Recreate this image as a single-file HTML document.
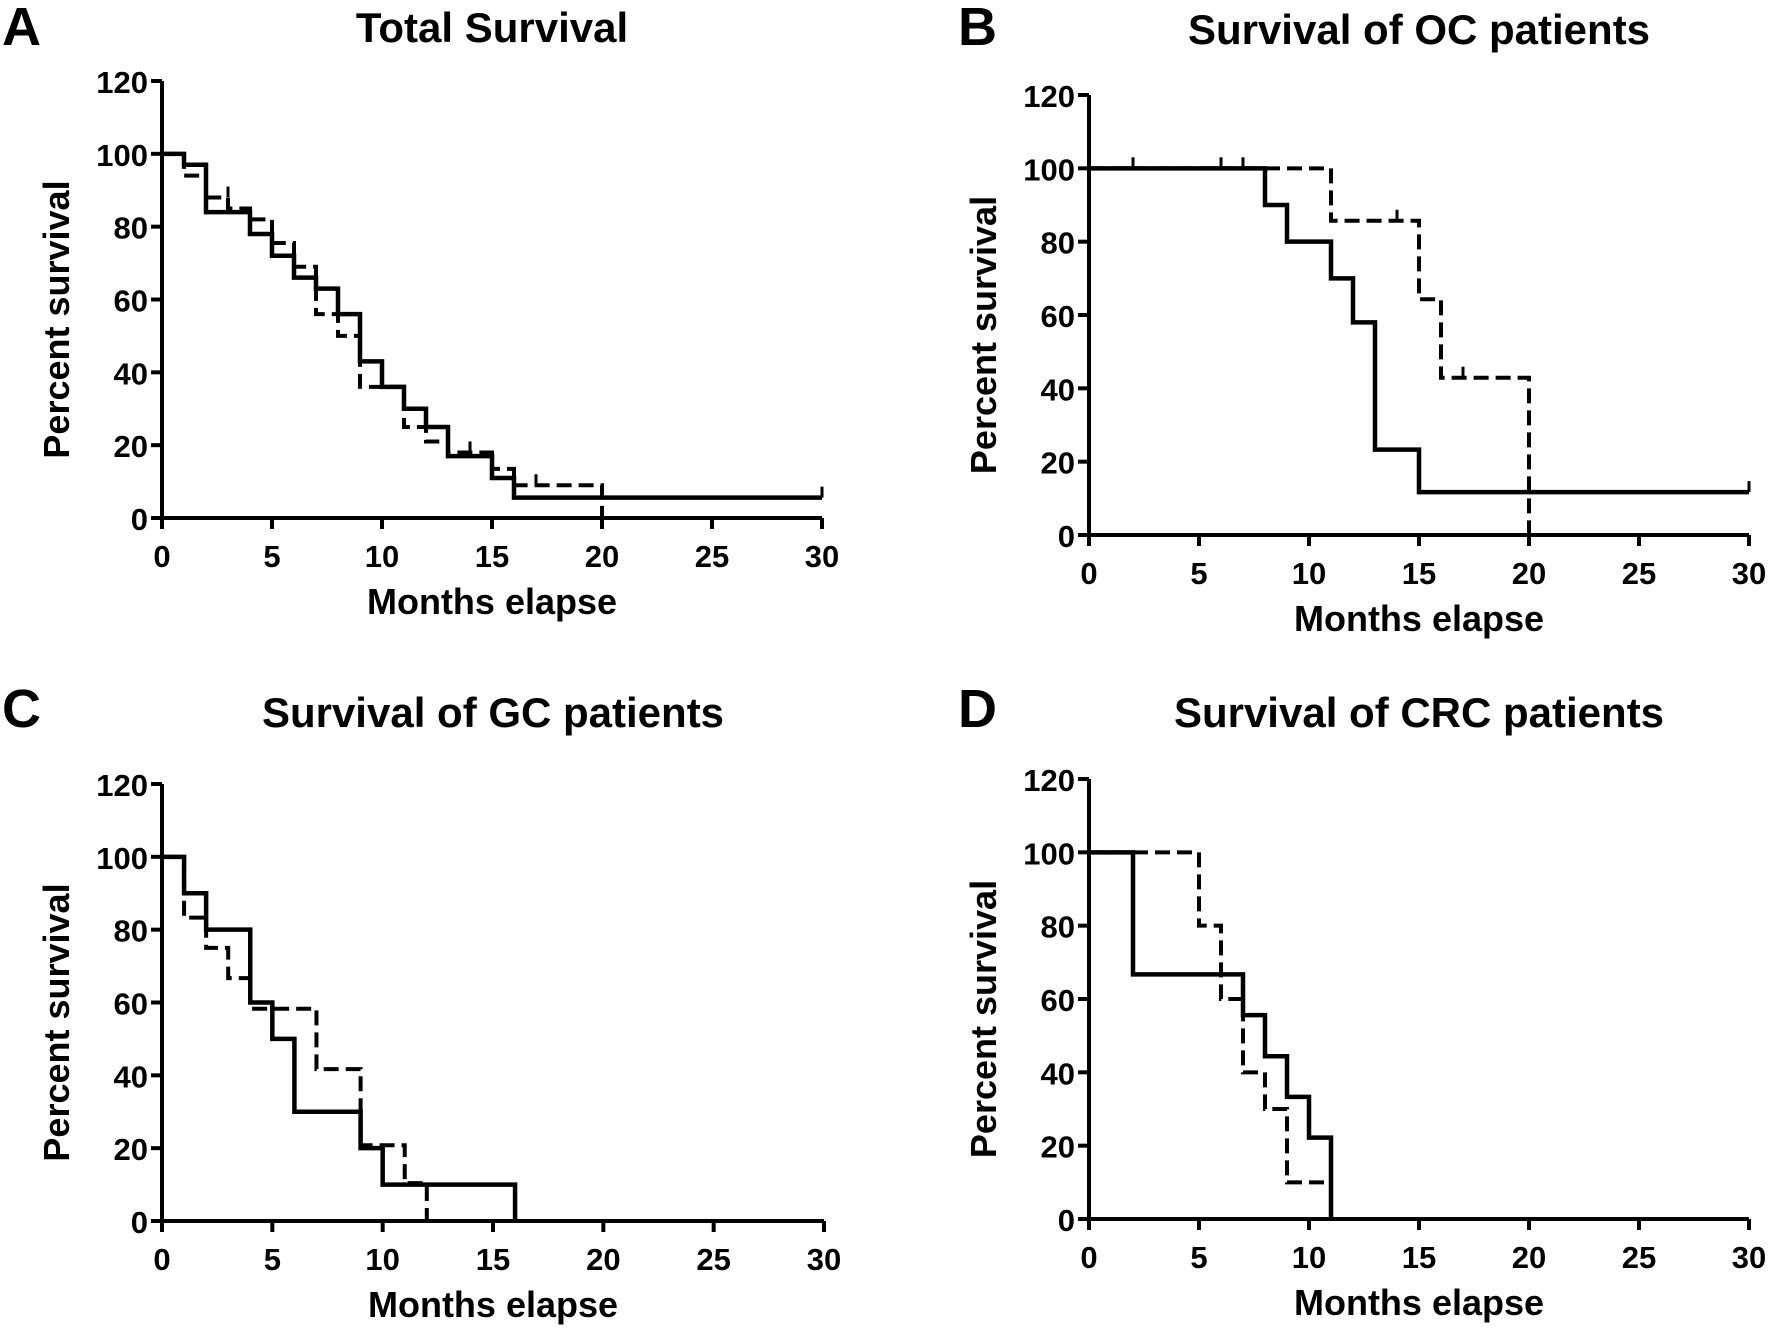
<!DOCTYPE html>
<html><head><meta charset="utf-8"><style>
html,body{margin:0;padding:0;background:#fff;}
svg{display:block;font-family:"Liberation Sans",Arial,sans-serif;font-weight:bold;}
</style></head><body>
<svg id="fig" width="1772" height="1331" viewBox="0 0 1772 1331"></svg>
<script>
// ---- data: step curves as [time, percent] change points ----
const xTicks = [0,5,10,15,20,25,30];
const yTicks = [0,20,40,60,80,100,120];
const aSolidT = [0,1,2,4,5,6,7,8,9,10,11,12,13,15,16,30];
const aSolidV = [100,97,84,78,72,66,63,56,43,36,30,25,17,11,5.6,5.6];
const aDashT = [0,1,2,3,4,5,6,7,8,9,11,12,13,15,16,20];
const aDashV = [100,94,88,85,82,75.5,69,56,50,36,25,21,18,13.5,9,0];
const bSolidT = [0,8,9,11,12,13,15,30];
const bSolidV = [100,90,80,70,58,23.3,11.7,11.7];
const bDashT = [0,11,15,16,20];
const bDashV = [100,85.7,64.3,42.9,0];
const cSolidT = [0,1,2,4,5,6,9,10,16];
const cSolidV = [100,90,80,60,50,30,20,10,0];
const cDashT = [0,1,2,3,4,7,9,11,12];
const cDashV = [100,83.3,75,66.7,58.3,41.7,20.8,10.4,0];
const dSolidT = [0,2,7,8,9,10,11];
const dSolidV = [100,66.7,55.6,44.4,33.3,22.2,0];
const dDashT = [0,5,6,7,8,9,10.8];
const dDashV = [100,80,60,40,30,10,10];
const aCensorT = [3,14,17,30,20];
const aCensorV = [88,18,9,5.6,0];
const bCensorT = [2,6,7,14,17,30];
const bCensorV = [100,100,100,85.7,42.9,11.7];

const panels = [
 {id:'a',letter:'A',title:'Total Survival',x0:162,x1:822,y0:518,y1:81,lx:2,ly:45,ty:42,
  solid:[aSolidT,aSolidV],dash:[aDashT,aDashV],cens:[aCensorT,aCensorV]},
 {id:'b',letter:'B',title:'Survival of OC patients',x0:1089,x1:1749,y0:535,y1:95,lx:958,ly:45,ty:44,
  solid:[bSolidT,bSolidV],dash:[bDashT,bDashV],cens:[bCensorT,bCensorV]},
 {id:'c',letter:'C',title:'Survival of GC patients',x0:162,x1:824,y0:1221,y1:784,lx:2,ly:727,ty:727,
  solid:[cSolidT,cSolidV],dash:[cDashT,cDashV],cens:[[],[]]},
 {id:'d',letter:'D',title:'Survival of CRC patients',x0:1089,x1:1749,y0:1219,y1:779,lx:958,ly:727,ty:727,
  solid:[dSolidT,dSolidV],dash:[dDashT,dDashV],cens:[[],[]]}
];
const NS='http://www.w3.org/2000/svg';
const svg=document.getElementById('fig');
function mk(tag,attrs,parent){const e=document.createElementNS(NS,tag);for(const k in attrs)e.setAttribute(k,attrs[k]);(parent||svg).appendChild(e);return e;}
panels.forEach(p=>{
 const g=mk('g',{});
 
 
 const sx=t=>p.x0+(p.x1-p.x0)*t/30;
 const sy=v=>p.y0+(p.y1-p.y0)*v/120;
 const L=mk('text',{x:p.lx,y:p.ly,'font-size':54,'text-anchor':'start'},g);L.textContent=p.letter;
 
 
 const T=mk('text',{x:(p.x0+p.x1)/2,y:p.ty,'font-size':42,'text-anchor':'middle'},g);T.textContent=p.title;
 
 
 const ax=mk('path',{d:`M${p.x0},${sy(120)}V${p.y0}H${p.x1}`,stroke:'#000','stroke-width':4,fill:'none'},g);
 
 
 yTicks.forEach(v=>{
  mk('line',{x1:p.x0-11,x2:p.x0,y1:sy(v),y2:sy(v),stroke:'#000','stroke-width':4},g);
  const t=mk('text',{x:p.x0-14,y:sy(v)+12,'font-size':31,'text-anchor':'end'},g);t.textContent=v;
  
  
 });
 xTicks.forEach(v=>{
  mk('line',{x1:sx(v),x2:sx(v),y1:p.y0,y2:p.y0+11,stroke:'#000','stroke-width':4},g);
  const t=mk('text',{x:sx(v),y:p.y0+49,'font-size':31,'text-anchor':'middle'},g);t.textContent=v;
  
  
 });
 const xt=mk('text',{x:(p.x0+p.x1)/2,y:p.y0+96,'font-size':36,'text-anchor':'middle'},g);xt.textContent='Months elapse';
 
 
 const ycx=p.x0-93, ycy=(p.y0+sy(120))/2+20;
 const yt=mk('text',{x:ycx,y:ycy,'font-size':36,'text-anchor':'middle',transform:`rotate(-90 ${ycx} ${ycy})`},g);yt.textContent='Percent survival';
 
 
 function step(T,V){let d=`M${sx(T[0])},${sy(V[0])}`;for(let i=1;i<T.length;i++){d+=`H${sx(T[i])}V${sy(V[i])}`;}return d;}
 const sd=mk('path',{d:step(p.dash[0],p.dash[1]),stroke:'#000','stroke-width':4,fill:'none','stroke-dasharray':'15 7'},g);
 
 
 const ss=mk('path',{d:step(p.solid[0],p.solid[1]),stroke:'#000','stroke-width':4.5,fill:'none'},g);
 
 
 p.cens[0].forEach((t,i)=>{
  const c=mk('line',{x1:sx(t),x2:sx(t),y1:sy(p.cens[1][i]),y2:sy(p.cens[1][i])-11,stroke:'#000','stroke-width':3},g);
  
  
 });
});
</script>
</body></html>
